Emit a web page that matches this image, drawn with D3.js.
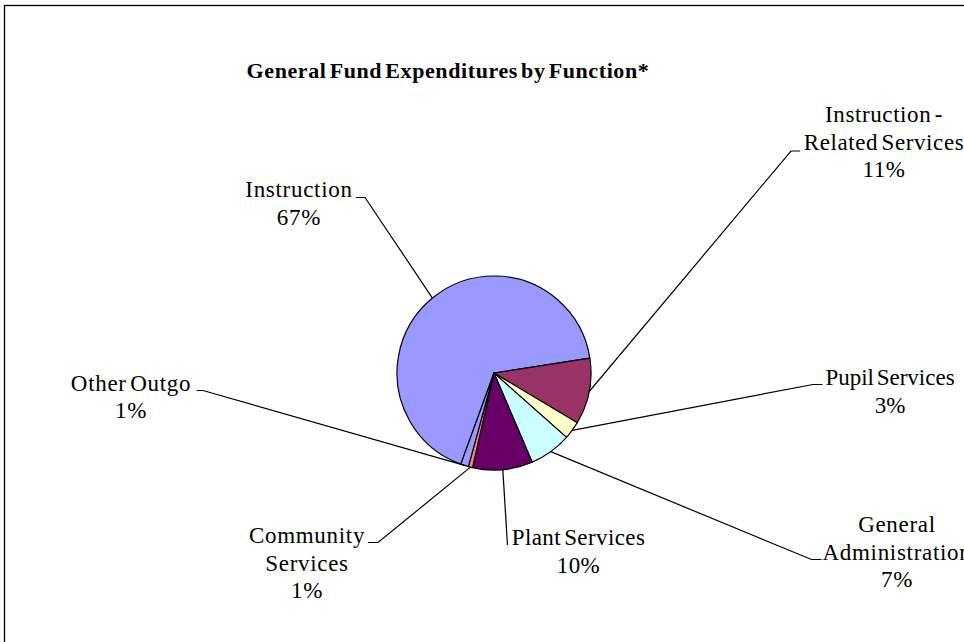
<!DOCTYPE html>
<html>
<head>
<meta charset="utf-8">
<script src="https://cdn.jsdelivr.net/npm/d3@7"></script>
<style>
  body { margin: 0; background: #fff; }
  svg { display: block; }
</style>
</head>
<body>
<svg width="964" height="642"></svg>
<script>
// Data (percent of general fund)
var categories = ["Instruction", "Instruction - Related Services", "Pupil Services",
                  "General Administration", "Plant Services", "Community Services", "Other Outgo"];
var values = [67, 11, 3, 7, 10, 0.7, 1.3];
var labelLines = [
    ["Instruction"],
    ["Instruction -", "Related Services"],
    ["Pupil Services"],
    ["General", "Administration"],
    ["Plant Services"],
    ["Community", "Services"],
    ["Other Outgo"]
];
var colors = ["#9999FF", "#993366", "#FFFFCC", "#CCFFFF", "#660066", "#FF8080", "#9999FF"];

// Where each label sits and where its leader line bends (layout only)
var labelLayout = [
    { x: 299, y: 197, elbow: [365, 197.5], end: [356, 197.5], spacing: 0.7 },
    { x: 884, y: 122, elbow: [791, 151], end: [800, 151], spacing: 0.6 },
    { x: 890, y: 385, elbow: [813, 384.5], end: [822.5, 384.5], spacing: 0 },
    { x: 897, y: 532, elbow: [811.5, 559.5], end: [821.5, 559.5], spacing: 0.7 },
    { x: 578.5, y: 545, elbow: [507.5, 545], end: null, spacing: 0.4 },
    { x: 307, y: 543, elbow: [378, 542.5], end: [368, 542.5], spacing: 0.7 },
    { x: 131, y: 390.5, elbow: [203, 390.5], end: [196.5, 390.5], spacing: 0.7 }
];

var font = "'Liberation Serif', 'Times New Roman', serif";
var svg = d3.select("svg");
var cx = 494, cy = 373, radius = 97;
var lineHeight = 27.5;

// chart frame (runs off the right and bottom like the original)
svg.append("rect")
    .attr("x", 4.5).attr("y", 5.5)
    .attr("width", 1000).attr("height", 700)
    .attr("fill", "#fff")
    .attr("stroke", "#000")
    .attr("stroke-width", 1.3);

svg.append("text")
    .attr("x", 448)
    .attr("y", 78)
    .attr("text-anchor", "middle")
    .attr("font-family", font)
    .attr("font-size", "22px")
    .attr("font-weight", "bold")
    .attr("letter-spacing", "0.6px")
    .attr("word-spacing", "-3px")
    .text("General Fund Expenditures by Function*");

var data = categories.map((c, i) => ({ name: c, value: values[i], lines: labelLines[i], pos: labelLayout[i], color: colors[i] }));

// first slice starts at about 200 degrees (clockwise from 12 o'clock)
var start = 200 * Math.PI / 180;
var pie = d3.pie()
    .value(d => d.value)
    .sort(null)
    .startAngle(start)
    .endAngle(start + 2 * Math.PI);

var arc = d3.arc().innerRadius(0).outerRadius(radius);

var group = svg.append("g")
    .attr("transform", "translate(" + cx + "," + cy + ")");

var arcs = pie(data);

group.selectAll("path")
    .data(arcs)
    .enter()
    .append("path")
    .attr("d", arc)
    .attr("fill", d => d.data.color)
    .attr("stroke", "#000")
    .attr("stroke-width", 1.2)
    .attr("stroke-linejoin", "round");

// leader lines: from the slice edge at its mid angle to the label
svg.selectAll("polyline.leader")
    .data(arcs)
    .enter()
    .append("polyline")
    .attr("class", "leader")
    .attr("fill", "none")
    .attr("stroke", "#000")
    .attr("stroke-width", 1.2)
    .attr("points", d => {
        var a = (d.startAngle + d.endAngle) / 2;
        var ex = cx + radius * Math.sin(a);
        var ey = cy - radius * Math.cos(a);
        var p = d.data.pos;
        var pts = [[ex, ey], p.elbow];
        if (p.end) pts.push(p.end);
        return pts.map(q => q.join(",")).join(" ");
    });

// labels with name lines and the rounded percent
var labels = svg.selectAll("text.label")
    .data(arcs)
    .enter()
    .append("text")
    .attr("class", "label")
    .attr("text-anchor", "middle")
    .attr("font-family", font)
    .attr("font-size", "23px")
    .attr("letter-spacing", d => d.data.pos.spacing + "px")
    .attr("word-spacing", "-3px");

labels.each(function(d) {
    var t = d3.select(this);
    var lines = d.data.lines.concat([Math.round(d.data.value) + "%"]);
    lines.forEach((line, i) => {
        t.append("tspan")
            .attr("x", d.data.pos.x)
            .attr("y", d.data.pos.y + i * lineHeight)
            .text(line);
    });
});
</script>
</body>
</html>
